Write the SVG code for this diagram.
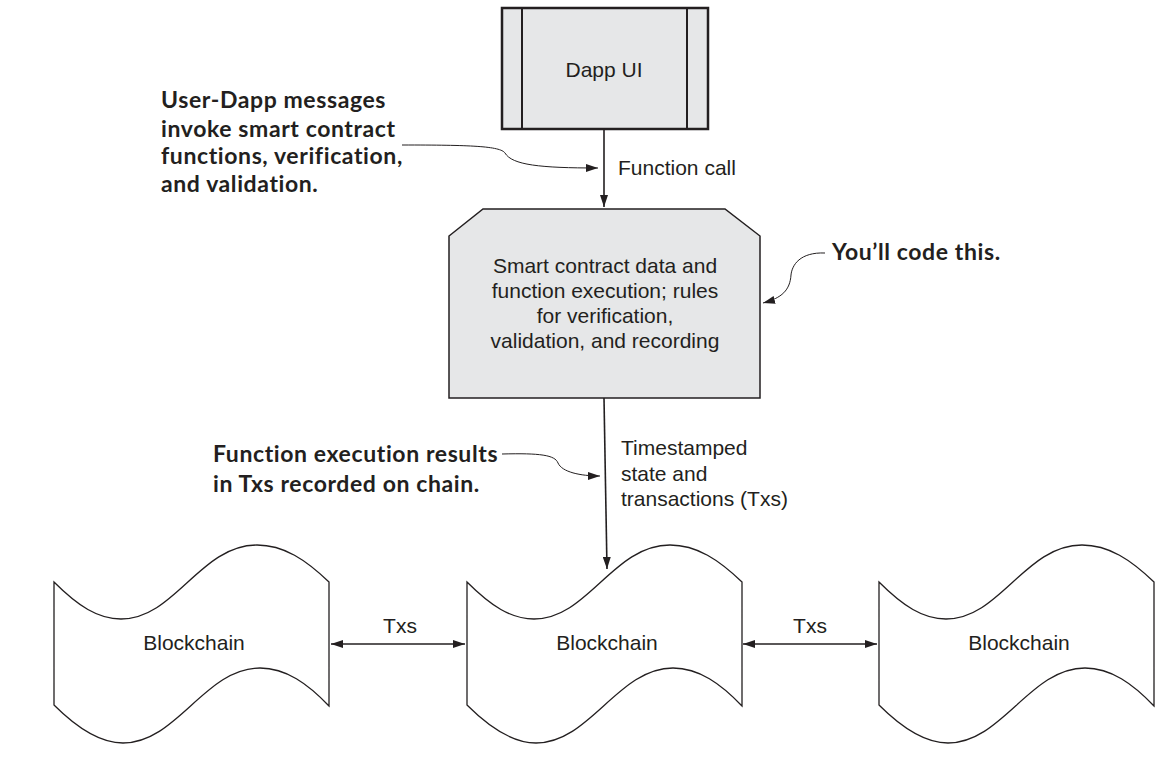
<svg xmlns="http://www.w3.org/2000/svg" xmlns:xlink="http://www.w3.org/1999/xlink" width="1167" height="757" viewBox="0 0 1167 757">
<style>
.lbl{font-family:"Liberation Sans",Arial,sans-serif;font-size:21px;fill:#231f20}
.mid{text-anchor:middle}
.note{font-family:Lato,"Open Sans",sans-serif;font-weight:bold;font-size:23px;letter-spacing:0.6px;fill:#231f20}
.ln{fill:none;stroke:#231f20;stroke-width:1.6}
.thin{fill:none;stroke:#231f20;stroke-width:1}
.chain{fill:#fff;stroke:#231f20;stroke-width:1.3}
</style>
<defs>
<marker id="ah" viewBox="0 0 12 8" refX="12" refY="4" markerWidth="12" markerHeight="8" markerUnits="userSpaceOnUse" orient="auto-start-reverse">
<path d="M0,0 L12,4 L0,8 Z" fill="#231f20"/>
</marker>
<path id="wave" d="M54,582 C78,606 98,619 121,619 C175,619 200,545 257,545 C284,545 306,560 329,582 L329,706 C308,684 286,668 260,668 C205,668 177,743 123,743 C100,743 78,729 54,705 Z"/>
</defs>
<rect width="1167" height="757" fill="#fff"/>

<g id="dapp-ui">
<rect x="502" y="8" width="206" height="121" fill="#e6e7e8" stroke="#231f20" stroke-width="2.5"/>
<line x1="522" y1="8" x2="522" y2="129" stroke="#231f20" stroke-width="2"/>
<line x1="687" y1="8" x2="687" y2="129" stroke="#231f20" stroke-width="2"/>
<text class="lbl mid" x="604" y="77">Dapp UI</text>
</g>

<g id="smart-contract">
<polygon points="483,209 725,209 760,236 760,398 449,398 449,236" fill="#e6e7e8" stroke="#231f20" stroke-width="1.5"/>
<text class="lbl mid" x="605" y="273">Smart contract data and</text>
<text class="lbl mid" x="605" y="298">function execution; rules</text>
<text class="lbl mid" x="605" y="323">for verification,</text>
<text class="lbl mid" x="605" y="348">validation, and recording</text>
</g>

<g id="blockchain-1">
<use xlink:href="#wave" class="chain"/>
<text class="lbl mid" x="194" y="650">Blockchain</text>
</g>
<g id="blockchain-2">
<use xlink:href="#wave" class="chain" transform="translate(413,0)"/>
<text class="lbl mid" x="607" y="650">Blockchain</text>
</g>
<g id="blockchain-3">
<use xlink:href="#wave" class="chain" transform="translate(825,0)"/>
<text class="lbl mid" x="1019" y="650">Blockchain</text>
</g>

<g id="connectors">
<line class="ln" x1="604" y1="129" x2="604" y2="207" marker-end="url(#ah)"/>
<text class="lbl" x="618" y="175">Function call</text>
<line class="ln" x1="604" y1="398" x2="607" y2="569" marker-end="url(#ah)"/>
<text class="lbl" x="621" y="455">Timestamped</text>
<text class="lbl" x="621" y="481">state and</text>
<text class="lbl" x="621" y="506">transactions (Txs)</text>
<line class="ln" x1="331" y1="644" x2="465" y2="644" marker-start="url(#ah)" marker-end="url(#ah)"/>
<text class="lbl mid" x="400" y="633">Txs</text>
<line class="ln" x1="743" y1="644" x2="877" y2="644" marker-start="url(#ah)" marker-end="url(#ah)"/>
<text class="lbl mid" x="810" y="633">Txs</text>
<path class="thin" d="M402,145 C470,145 500,146 505,153 C512,165 540,168 598,168" marker-end="url(#ah)"/>
<path class="thin" d="M502,454 C540,453 555,455 558,463 C562,472 580,476 600,476" marker-end="url(#ah)"/>
<path class="thin" d="M825,253 C800,252 792,265 791,275 C790,290 782,298 763,303" marker-end="url(#ah)"/>
</g>

<g id="notes">
<text class="note" x="161" y="108">User-Dapp messages</text>
<text class="note" x="161" y="137">invoke smart contract</text>
<text class="note" x="161" y="164">functions, verification,</text>
<text class="note" x="161" y="192">and validation.</text>
<text class="note" x="213" y="462">Function execution results</text>
<text class="note" x="213" y="492">in Txs recorded on chain.</text>
<text class="note" x="832" y="260">You’ll code this.</text>
</g>
</svg>
